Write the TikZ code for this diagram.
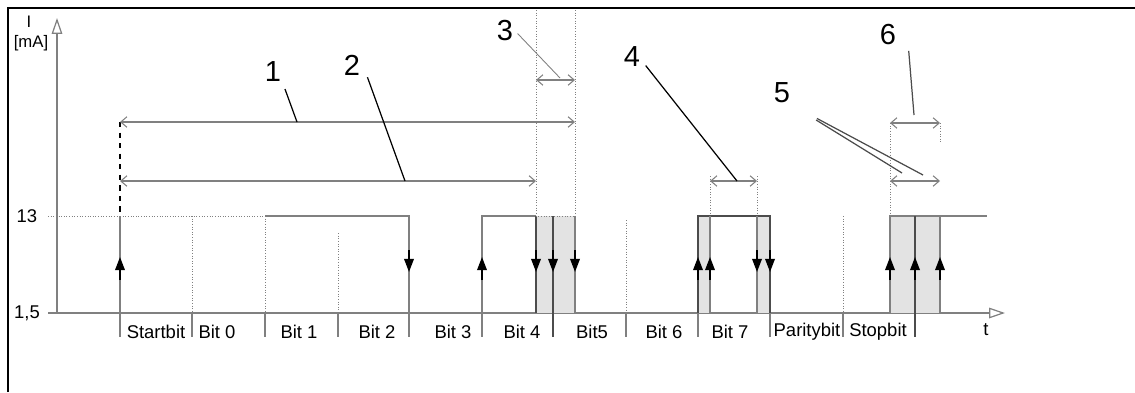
\documentclass[tikz,border=0pt]{standalone}
\usepackage{fontspec}
\setmainfont{Liberation Sans}
\usetikzlibrary{arrows.meta}

\begin{document}
\begin{tikzpicture}[x=0.02cm, y=-0.02cm,
  sig/.style={gray, line width=0.9pt},
  sigdark/.style={black!70, line width=1pt},
  gridline/.style={gray, densely dotted, line width=0.5pt},
  tick/.style={gray, line width=0.7pt},
  edgearrow/.style={-{Triangle[length=7.5pt, width=5.5pt]}, black, line width=0.9pt},
  axisline/.style={gray, line width=0.7pt, -{Triangle[open, length=9pt, width=6pt]}},
  dim/.style={{Straight Barb[length=3.5pt, width=6pt]}-{Straight Barb[length=3.5pt, width=6pt]}, gray, line width=0.6pt},
  lead/.style={black, line width=0.7pt},
  num/.style={font=\fontsize{16.5}{17}\selectfont, inner sep=1pt},
  lbl/.style={font=\fontsize{10.5}{12}\selectfont, inner sep=1pt},
  shade/.style={fill=gray!22, draw=gray, densely dotted, line width=0.5pt}]
  \useasboundingbox (0,0) rectangle (1135,392);

  % frame
  \draw[black, line width=1.4pt] (8,392) -- (8,8) -- (1135,8);

  % axes
  \draw[axisline] (57,313) -- (57,18);
  \draw[axisline] (48,313) -- (1005,313);
  \node[lbl, font=\fontsize{9.5}{10}\selectfont] (iname) at (29,22) {I};
  \node[lbl, font=\fontsize{9.5}{10}\selectfont] (iunit) at (31,43) {[mA]};
  \node[lbl] (lvhigh) at (27,216) {13};
  \node[lbl] (lvlow) at (27,313) {1,5};
  \node[lbl] (tname) at (986,330) {t};
  \draw[gridline] (48,216) -- (120,216);

  % bit grid
  \draw[gridline] (192,216) -- (192,313);
  \draw[gridline] (265,216) -- (265,313);
  \draw[gridline] (338,233) -- (338,313);
  \draw[gridline] (626,220) -- (626,313);
  \draw[gridline] (843,216) -- (843,313);
  \foreach \xb in {120,192,265,338,409,482,553,626,698,770,843,915}
    \draw[tick] (\xb,313) -- (\xb,337);
  \foreach \xc/\txt [count=\i] in {156/Startbit,217/Bit 0,299/Bit 1,377/Bit 2,453/Bit 3,522/Bit 4,592/Bit5,664/Bit 6,730/Bit 7,807/Paritybit,878/Stopbit}
    \node[lbl] (bit\i) at (\xc,332) {\txt};

  % shaded edge windows
  \draw[shade] (536,216) rectangle (575,313);
  \draw[shade] (698,216) rectangle (710,313);
  \draw[shade] (757,216) rectangle (770,313);
  \draw[shade] (890,216) rectangle (940,313);

  % signal
  \draw[sig] (120,313) -- (120,216);
  \draw[gridline] (120,216) -- (265,216);
  \draw[sig] (265,216) -- (409,216) -- (409,313);
  \draw[sig] (482,313) -- (482,216) -- (536,216);
  \draw[sigdark] (536,216) -- (536,313);
  \draw[sigdark] (553,216) -- (553,337);
  \draw[sig] (575,216) -- (575,313);
  \draw[sigdark] (698,313) -- (698,216) -- (770,216) -- (770,313);
  \draw[sig] (710,216) -- (710,313);
  \draw[sig] (757,216) -- (757,313);
  \draw[sig] (890,313) -- (890,216) -- (987,216);
  \draw[sigdark] (915,216) -- (915,337);
  \draw[sig] (940,216) -- (940,313);

  % edge arrows
  \foreach \xu in {120,482,698,710,890,915,940}
    \draw[edgearrow] (\xu,280) -- (\xu,257);
  \foreach \xd in {409,536,553,575,757,770}
    \draw[edgearrow] (\xd,250) -- (\xd,272);

  % dimension helpers
  \draw[black, dashed, line width=0.8pt] (120,122) -- (120,216);
  \draw[gridline] (536,10) -- (536,216);
  \draw[gridline] (575,10) -- (575,216);
  \draw[gridline] (710,176) -- (710,216);
  \draw[gridline] (757,176) -- (757,216);
  \draw[gridline] (890,123) -- (890,216);
  \draw[gridline] (940,123) -- (940,142);

  \coordinate (d1a) at (120,122);
  \coordinate (d1b) at (575,122);
  \coordinate (d2a) at (120,181);
  \coordinate (d2b) at (536,181);
  \coordinate (d3a) at (536,80);
  \coordinate (d3b) at (575,80);
  \coordinate (d4a) at (710,181);
  \coordinate (d4b) at (757,181);
  \coordinate (d5a) at (890,181);
  \coordinate (d5b) at (940,181);
  \coordinate (d6a) at (890,123);
  \coordinate (d6b) at (940,123);
  \draw[dim] (d1a) -- (d1b);
  \draw[dim] (d2a) -- (d2b);
  \draw[dim] (d3a) -- (d3b);
  \draw[dim] (d4a) -- (d4b);
  \draw[dim] (d5a) -- (d5b);
  \draw[dim] (d6a) -- (d6b);

  % callouts
  \node[num] (n1) at (273,72) {1};
  \node[num] (n2) at (352,65) {2};
  \node[num] (n3) at (505,31) {3};
  \node[num] (n4) at (632,57) {4};
  \node[num] (n5) at (782,93) {5};
  \node[num] (n6) at (888,35) {6};
  \coordinate (d1l) at (297,122);
  \coordinate (d2l) at (405,181);
  \coordinate (d3l) at (560,78);
  \coordinate (d4l) at (737,181);
  \coordinate (d5l) at (902,173);
  \coordinate (d5m) at (923,175);
  \coordinate (d6l) at (914,115);
  \draw[lead, shorten <=3pt] (n1.south east) -- (d1l);
  \draw[lead] ([xshift=3pt]n2.south east) -- (d2l);
  \draw[lead, gray, line width=0.5pt, shorten <=2pt] (n3.east) -- (d3l);
  \draw[lead] ([xshift=2pt, yshift=2pt]n4.south east) -- (d4l);
  \draw[lead, gray!60!black, shorten <=16pt] (n5.south east) -- (d5l);
  \draw[lead, gray!60!black, shorten <=16pt] (n5.south east) -- (d5m);
  \draw[lead, gray!60!black] ([xshift=6pt, yshift=-2pt]n6.south east) -- (d6l);
\end{tikzpicture}
\end{document}
